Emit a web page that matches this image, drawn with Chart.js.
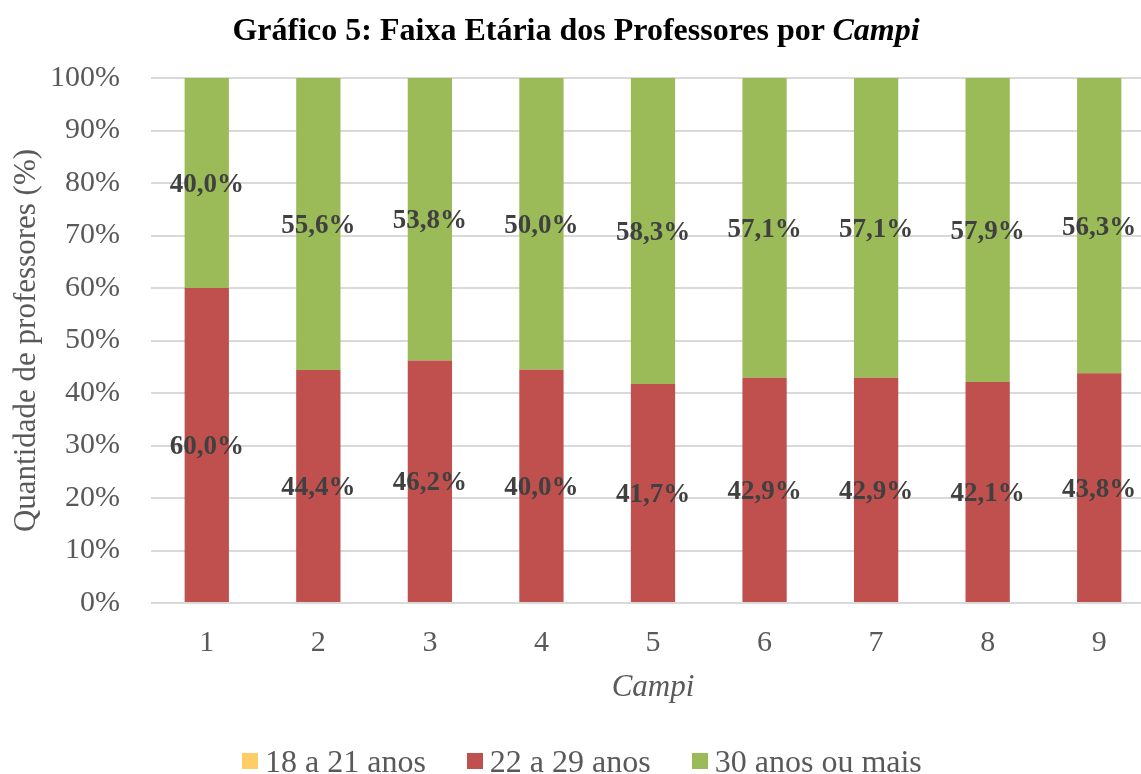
<!DOCTYPE html>
<html lang="pt">
<head>
  <meta charset="UTF-8">
  <title>Faixa Etária dos Professores por Campi</title>
  <style>
    body {
      margin: 0;
      background: #fff;
      overflow: hidden;
      font-family: "Liberation Serif", "Times New Roman", serif;
    }
    #wrap {
      position: relative;
      width: 1155px;
      height: 774px;
    }
    #titulo {
      position: absolute;
      top: 13px;
      left: 0;
      width: 1152px;
      text-align: center;
      font-weight: bold;
      font-size: 32px;
      line-height: 32px;
      color: #000;
    }
    #legenda {
      position: absolute;
      top: 745px;
      left: 242px;
      display: flex;
      align-items: center;
      font-size: 32px;
      line-height: 32px;
      color: #595959;
    }
    #legenda .item {
      display: flex;
      align-items: center;
      margin-right: 41px;
    }
    #legenda .box {
      width: 16px;
      height: 16px;
      margin-right: 7px;
    }
  </style>
</head>
<body>
  <div id="wrap">
    <canvas id="grafico"></canvas>
    <div id="titulo">Gráfico 5: Faixa Etária dos Professores por <i>Campi</i></div>
    <div id="legenda"></div>
  </div>

  <script src="https://cdn.jsdelivr.net/npm/chart.js"></script>
  <script>
    // dados (rótulos tal como aparecem)
    const CAMPI = ['1', '2', '3', '4', '5', '6', '7', '8', '9'];
    const SERIES = ['18 a 21 anos', '22 a 29 anos', '30 anos ou mais'];
    const CORES = ['#FFCC66', '#C0504D', '#9BBB59'];
    const IDADE_18_21 = [0, 0, 0, 0, 0, 0, 0, 0, 0];
    const IDADE_22_29 = [60.0, 44.4, 46.2, 40.0, 41.7, 42.9, 42.9, 42.1, 43.8];
    const IDADE_30_MAIS = [40.0, 55.6, 53.8, 50.0, 58.3, 57.1, 57.1, 57.9, 56.3];
    const Y_TICKS = [0, 10, 20, 30, 40, 50, 60, 70, 80, 90, 100];

    const valores = [IDADE_18_21, IDADE_22_29, IDADE_30_MAIS];
    // barras empilhadas a 100%
    const totais = CAMPI.map((c, i) => valores.reduce((a, s) => a + s[i], 0));
    const pct = s => s.map((v, i) => totais[i] ? v / totais[i] * 100 : 0);

    const FONTE = "'Liberation Serif', 'Times New Roman', serif";

    // rótulos de dados no centro de cada segmento
    const rotulos = {
      id: 'rotulos',
      afterDatasetsDraw(chart) {
        const ctx = chart.ctx;
        ctx.save();
        ctx.font = 'bold 27px ' + FONTE;
        ctx.fillStyle = '#404040';
        ctx.textAlign = 'center';
        ctx.textBaseline = 'middle';
        chart.data.datasets.forEach((ds, di) => {
          const meta = chart.getDatasetMeta(di);
          meta.data.forEach((bar, i) => {
            const v = valores[di][i];
            if (!v) return;
            const txt = v.toFixed(1).replace('.', ',') + '%';
            ctx.fillText(txt, bar.x, (bar.y + bar.base) / 2 + 2);
          });
        });
        ctx.restore();
      }
    };

    new Chart(document.getElementById('grafico'), {
      type: 'bar',
      data: {
        labels: CAMPI,
        datasets: SERIES.map((nome, i) => ({
          label: nome,
          data: pct(valores[i]),
          backgroundColor: CORES[i],
          barPercentage: 0.397,
          categoryPercentage: 1
        }))
      },
      options: {
        responsive: true,
        maintainAspectRatio: false,
        animation: false,
        layout: { padding: { top: 78, bottom: 68, left: 0, right: 0 } },
        plugins: {
          legend: { display: false },
          tooltip: { enabled: false }
        },
        scales: {
          x: {
            stacked: true,
            grid: { display: false },
            border: { display: false },
            ticks: { color: '#595959', padding: 14, font: { family: FONTE, size: 30 } },
            title: {
              display: true,
              text: 'Campi',
              color: '#595959',
              padding: 0,
              font: { family: FONTE, size: 31, style: 'italic' }
            },
            afterFit: s => { s.height = 103; }
          },
          y: {
            stacked: true,
            min: 0,
            max: 100,
            afterBuildTicks: s => { s.ticks = Y_TICKS.map(v => ({ value: v })); },
            grid: { color: '#d9d9d9', lineWidth: 2, drawTicks: false },
            border: { display: false },
            ticks: {
              color: '#595959',
              padding: 31,
              font: { family: FONTE, size: 30 },
              callback: v => v + '%'
            },
            title: {
              display: true,
              text: 'Quantidade de professores (%)',
              color: '#595959',
              padding: { top: 8 },
              font: { family: FONTE, size: 31 }
            },
            afterFit: s => { s.width = 151; }
          }
        }
      },
      plugins: [rotulos]
    });

    // legenda
    const leg = document.getElementById('legenda');
    SERIES.forEach((nome, i) => {
      const item = document.createElement('div');
      item.className = 'item';
      item.innerHTML = `<span class="box" style="background:${CORES[i]}"></span><span>${nome}</span>`;
      leg.appendChild(item);
    });
  </script>
</body>
</html>
